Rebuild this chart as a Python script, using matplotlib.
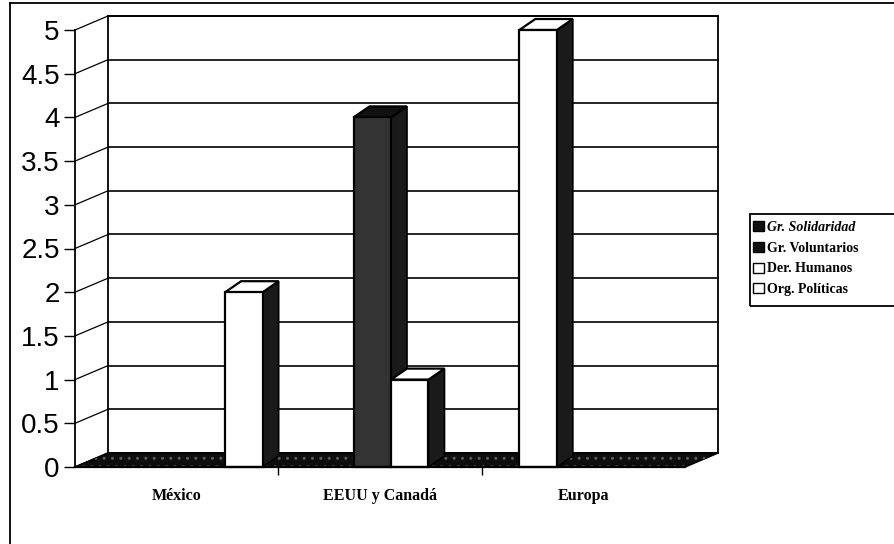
import matplotlib.pyplot as plt
from matplotlib.patches import Polygon, Patch, Rectangle
from matplotlib.lines import Line2D
import numpy as np

categories = ['México', 'EEUU y Canadá', 'Europa']
series = ['Gr. Solidaridad', 'Gr. Voluntarios', 'Der. Humanos', 'Org. Políticas']
gr_solidaridad = [0, 0, 5]
gr_voluntarios = [0, 4, 0]
der_humanos = [0, 1, 0]
org_politicas = [2, 0, 0]
y_ticks = [0, 0.5, 1, 1.5, 2, 2.5, 3, 3.5, 4, 4.5, 5]
y_labels = ['0', '0.5', '1', '1.5', '2', '2.5', '3', '3.5', '4', '4.5', '5']

values = [gr_solidaridad, gr_voluntarios, der_humanos, org_politicas]
# scanned look: faces as they appear in the picture, legend keys as drawn
face_colors = ['white', '#333333', 'white', 'white']
legend_colors = ['#111111', '#111111', 'white', 'white']
side_color = '#1a1a1a'

W, H = 894, 544
fig = plt.figure(figsize=(W / 100, H / 100), dpi=100)
ax = fig.add_axes([75 / W, (H - 467) / H, 610 / W, 437 / H])
ax.set_xlim(0, 3)
ax.set_ylim(0, 5)
ax.patch.set_visible(False)

# depth offsets in data units
wall_dx, wall_dy = 33 / 610 * 3, 14 / 437 * 5
bar_dx, bar_dy = 16 / 610 * 3, 11 / 437 * 5
bar_w = 37.5 / 610 * 3
shift = 11 / 610 * 3

n_cat = len(categories)

# back wall and grid
ax.add_patch(Polygon([(wall_dx, wall_dy), (n_cat + wall_dx, wall_dy),
                      (n_cat + wall_dx, 5 + wall_dy), (wall_dx, 5 + wall_dy)],
                     closed=True, facecolor='white', edgecolor='black', lw=1.3,
                     clip_on=False, zorder=1))
for t in y_ticks:
    ax.plot([wall_dx, n_cat + wall_dx], [t + wall_dy, t + wall_dy],
            color='black', lw=1.2, clip_on=False, zorder=2)
    ax.plot([0, wall_dx], [t, t + wall_dy], color='black', lw=0.9,
            clip_on=False, zorder=2)

# floor
floor = [(0, 0), (n_cat, 0), (n_cat + wall_dx, wall_dy), (wall_dx, wall_dy)]
ax.add_patch(Polygon(floor, closed=True, facecolor='#0d0d0d', edgecolor='black',
                     lw=1.2, clip_on=False, zorder=3))
ax.add_patch(Polygon(floor, closed=True, facecolor='none', edgecolor='#5a5a5a',
                     hatch='..', lw=0, clip_on=False, zorder=3))

# bars with fake depth
centers = np.arange(n_cat) + 0.5
for k, vals in enumerate(values):
    x_left = centers + (k - 1.5) * bar_w - bar_w / 2 + shift
    for xl, v in zip(x_left, vals):
        if v <= 0:
            continue
        xr = xl + bar_w
        ax.add_patch(Polygon([(xr, 0), (xr + bar_dx, bar_dy),
                              (xr + bar_dx, v + bar_dy), (xr, v)],
                             closed=True, facecolor=side_color,
                             edgecolor='black', lw=1.2, clip_on=False, zorder=4))
        top_color = face_colors[k] if face_colors[k] == 'white' else '#111111'
        ax.add_patch(Polygon([(xl, v), (xr, v), (xr + bar_dx, v + bar_dy),
                              (xl + bar_dx, v + bar_dy)],
                             closed=True, facecolor=top_color,
                             edgecolor='black', lw=1.6, clip_on=False, zorder=4))
    ax.bar(x_left, [v if v > 0 else np.nan for v in vals], width=bar_w,
           align='edge', color=face_colors[k], edgecolor='black', lw=1.6,
           zorder=5, clip_on=False)

# axes: front vertical axis and floor front edge
for s in ['top', 'right']:
    ax.spines[s].set_visible(False)
ax.spines['left'].set_linewidth(1.3)
ax.spines['bottom'].set_linewidth(1.6)
ax.spines['left'].set_zorder(6)
ax.spines['bottom'].set_zorder(6)

ax.set_yticks(y_ticks)
ax.set_yticklabels(y_labels, fontsize=20, family='Liberation Sans')
ax.tick_params(axis='y', length=8, width=1, pad=3)

ax.set_xticks(centers)
ax.set_xticklabels(categories, fontsize=11.5, family='Liberation Serif',
                   fontweight='bold')
ax.set_xticks(np.arange(1, n_cat), minor=True)
ax.tick_params(axis='x', which='major', length=0, pad=15)
ax.tick_params(axis='x', which='minor', length=6, width=1)

# legend (its box runs off the right edge in the scan)
handles = [Patch(facecolor=c, edgecolor='black', lw=1) for c in legend_colors]
leg = fig.legend(handles, series, loc='upper left',
                 bbox_to_anchor=(749 / W, (H - 217) / H),
                 frameon=False, handlelength=0.75, handleheight=0.75,
                 handletextpad=0.25, labelspacing=0.55, borderpad=0.3,
                 borderaxespad=0,
                 prop={'family': 'Liberation Serif', 'weight': 'bold', 'size': 10})
leg.get_texts()[0].set_style('italic')
fig.add_artist(Rectangle((750 / W, (H - 306) / H), 200 / W, 92 / H,
                         transform=fig.transFigure, facecolor='none',
                         edgecolor='black', lw=1.3))

# outer chart frame
fig.add_artist(Line2D([10 / W, 10 / W], [0, 1 - 3 / H], color='black', lw=1.3))
fig.add_artist(Line2D([10 / W, 1], [1 - 3 / H, 1 - 3 / H], color='black', lw=1.3))

fig.savefig('out.png', dpi=100)
